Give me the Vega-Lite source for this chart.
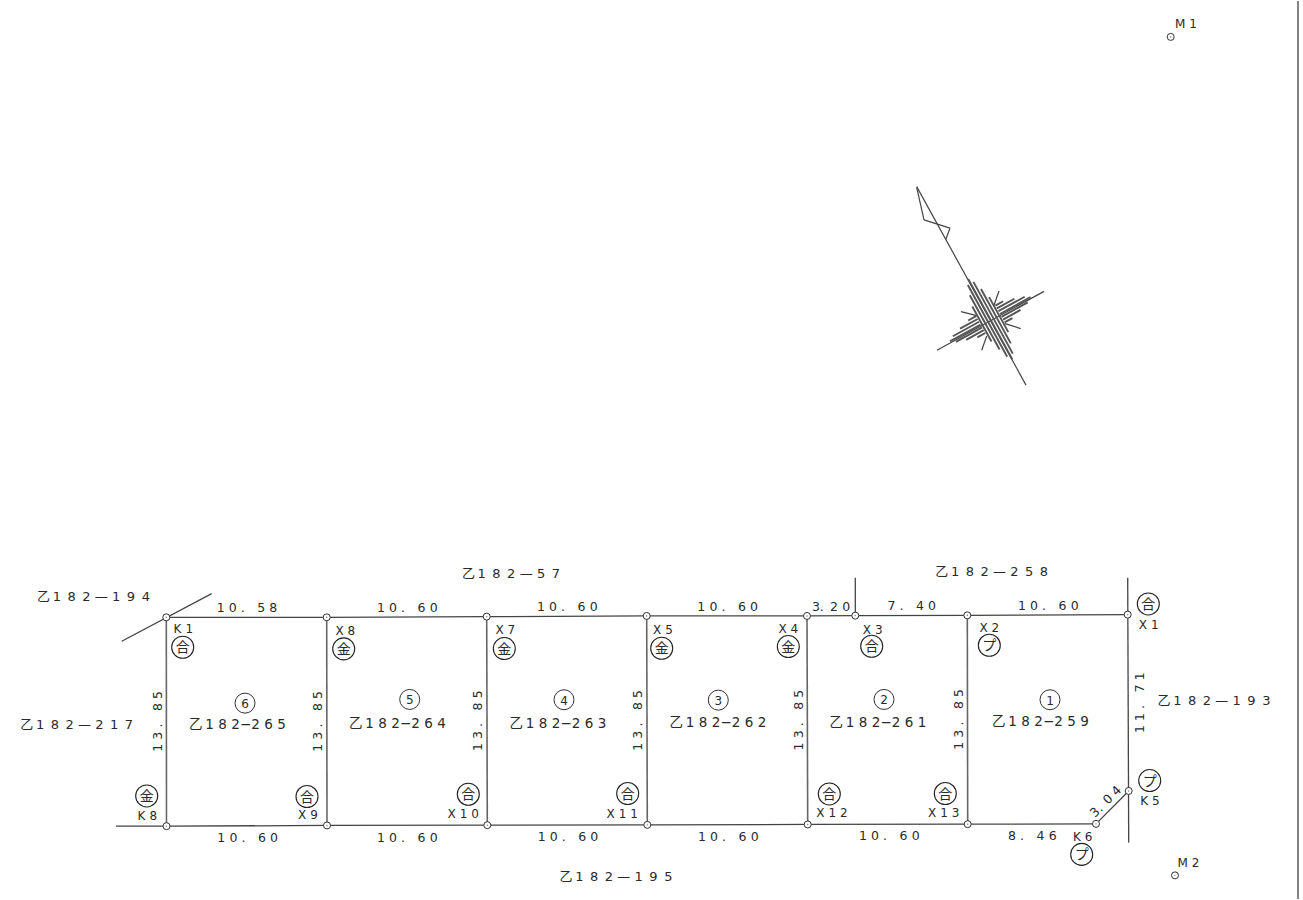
{"$schema":"https://vega.github.io/schema/vega-lite/v6.json","width":1303,"height":900,"padding":0,"autosize":{"type":"fit","contains":"padding"},"background":"white","config":{"view":{"stroke":null},"text":{"font":"DejaVu Sans, Noto Sans CJK JP","fill":"#2a2a2a","align":"center","baseline":"middle","dy":1}},
"datasets":{
"horizontal":[{"x":166.3,"y":617.7,"x2":326.7,"y2":617.7},{"x":326.7,"y":617.7,"x2":486.7,"y2":617},{"x":486.7,"y":617,"x2":646.7,"y2":616.3},{"x":646.7,"y":616.3,"x2":807,"y2":616.3},{"x":807,"y":616.3,"x2":855.3,"y2":616},{"x":855.3,"y":616,"x2":967.3,"y2":615.7},{"x":967.3,"y":615.7,"x2":1127.7,"y2":615},{"x":166.5,"y":827,"x2":327,"y2":826.3},{"x":327,"y":826.3,"x2":487.3,"y2":826},{"x":487.3,"y":826,"x2":647.3,"y2":825.7},{"x":647.3,"y":825.7,"x2":807.7,"y2":825.3},{"x":807.7,"y":825.3,"x2":967.7,"y2":825},{"x":967.7,"y":825,"x2":1096,"y2":824.7},{"x":1096,"y":824.7,"x2":1128.7,"y2":791.7},{"x":121.7,"y":641.7,"x2":211.7,"y2":594},{"x":116,"y":827,"x2":166.5,"y2":827},{"x":855.3,"y":578,"x2":855.3,"y2":616},{"x":1127.7,"y":578,"x2":1128.7,"y2":843.5}],
"vertical":[{"x":166.3,"y":617.7,"x2":166.5,"y2":827},{"x":326.7,"y":617.7,"x2":327,"y2":826.3},{"x":486.7,"y":617,"x2":487.3,"y2":826},{"x":646.7,"y":616.3,"x2":647.3,"y2":825.7},{"x":807,"y":616.3,"x2":807.7,"y2":825.3},{"x":967.3,"y":615.7,"x2":967.7,"y2":825},{"x":1298,"y":0,"x2":1298,"y2":900}],
"rose":[{"x":916.7,"y":186,"x2":1026,"y2":385},{"x":937,"y":350,"x2":1044,"y2":291},{"x":916.7,"y":186.7,"x2":924,"y2":219.3},{"x":924,"y":219.3,"x2":950,"y2":227.7},{"x":950,"y":227.7,"x2":945.7,"y2":239},{"x":999,"y":290.7,"x2":994,"y2":305},{"x":961,"y":311.3,"x2":976.7,"y2":315.3},{"x":1020.7,"y":328.3,"x2":1005,"y2":323.3},{"x":981.7,"y":350,"x2":986.7,"y2":335.7}],
"hatch":[{"x":968.2,"y":278.7,"x2":1012.4,"y2":359.3},
{"x":973.42,"y":281.49,"x2":1012.78,"y2":353.41},{"x":967.82,"y":284.59,"x2":1007.18,"y2":356.51},{"x":981.03,"y":288.72,"x2":1010.79,"y2":343.1},{"x":969.81,"y":294.9,"x2":999.57,"y2":349.28},{"x":989.11,"y":296.82,"x2":1008.31,"y2":331.9},{"x":972.29,"y":306.1,"x2":991.49,"y2":341.18},
{"x":999.94,"y":313.69,"x2":1030.6,"y2":296.8},{"x":980.66,"y":324.31,"x2":950,"y2":341.2},{"x":1001.48,"y":316.5,"x2":1027.76,"y2":302.01},{"x":982.2,"y":327.12,"x2":955.92,"y2":341.61},{"x":998.4,"y":310.88,"x2":1024.68,"y2":296.39},{"x":979.12,"y":321.5,"x2":952.84,"y2":335.99},{"x":1003.01,"y":319.3,"x2":1020.53,"y2":309.64},{"x":983.73,"y":329.92,"x2":966.21,"y2":339.58},{"x":996.87,"y":308.08,"x2":1014.39,"y2":298.42},{"x":977.59,"y":318.7,"x2":960.07,"y2":328.36},{"x":1004.55,"y":322.11,"x2":1012.43,"y2":317.76},{"x":985.27,"y":332.73,"x2":977.39,"y2":337.08},{"x":995.33,"y":305.27,"x2":1003.21,"y2":300.92},{"x":976.05,"y":315.89,"x2":968.17,"y2":320.24}],
"nodes":[{"x":166.3,"y":617.7},{"x":326.7,"y":617.7},{"x":486.7,"y":617},{"x":646.7,"y":616.3},{"x":807,"y":616.3},{"x":855.3,"y":616},{"x":967.3,"y":615.7},{"x":1127.7,"y":615},{"x":166.5,"y":827},{"x":327,"y":826.3},{"x":487.3,"y":826},{"x":647.3,"y":825.7},{"x":807.7,"y":825.3},{"x":967.7,"y":825},{"x":1096,"y":824.7},{"x":1128.7,"y":791.7},{"x":1170.7,"y":36},{"x":1175,"y":876.3}],
"wide":[{"x":93.5,"y":596.7,"t":"乙\u20091\u20028\u20022\u2004—\u20041\u20029\u20024"},{"x":76.7,"y":724.3,"t":"乙\u20091\u20028\u20022\u2004—\u20042\u20021\u20027"},{"x":511,"y":573.3,"t":"乙\u20091\u20028\u20022\u2004—\u20045\u20027"},{"x":616,"y":876.7,"t":"乙\u20091\u20028\u20022\u2004—\u20041\u20029\u20025"},{"x":991.7,"y":571.7,"t":"乙\u20091\u20028\u20022\u2004—\u20042\u20025\u20028"},{"x":1214,"y":701,"t":"乙\u20091\u20028\u20022\u2004—\u20041\u20029\u20023"}],
"parcel":[{"x":237.5,"y":724.3,"t":"乙\u20091\u20048\u20042−2\u20046\u20045"},{"x":397.5,"y":724,"t":"乙\u20091\u20048\u20042−2\u20046\u20044"},{"x":558,"y":723.3,"t":"乙\u20091\u20048\u20042−2\u20046\u20043"},{"x":718,"y":723,"t":"乙\u20091\u20048\u20042−2\u20046\u20042"},{"x":878,"y":723,"t":"乙\u20091\u20048\u20042−2\u20046\u20041"},{"x":1040.5,"y":721.7,"t":"乙\u20091\u20048\u20042−2\u20045\u20049"}],
"lotNumbers":[{"x":245,"y":703.7,"t":"6"},{"x":409.7,"y":700,"t":"5"},{"x":564,"y":700.3,"t":"4"},{"x":718.3,"y":700.7,"t":"3"},{"x":884,"y":700,"t":"2"},{"x":1050,"y":700.3,"t":"1"}],
"stakes":[{"x":182.7,"y":647.7,"t":"合"},{"x":343.7,"y":649.3,"t":"金"},{"x":146.7,"y":796.7,"t":"金"},{"x":307,"y":797.3,"t":"合"},{"x":504.3,"y":649,"t":"金"},{"x":661.7,"y":648.7,"t":"金"},{"x":788.3,"y":647,"t":"金"},{"x":468.3,"y":795,"t":"合"},{"x":627.7,"y":794.3,"t":"合"},{"x":829.3,"y":794.7,"t":"合"},{"x":871.7,"y":646.7,"t":"合"},{"x":989.3,"y":645.7,"t":"プ"},{"x":1148.3,"y":604.3,"t":"合"},{"x":945.3,"y":794.3,"t":"合"},{"x":1149.7,"y":781.3,"t":"プ"},{"x":1081.7,"y":855.3,"t":"プ"}],
"pointLabels":[{"x":183.3,"y":628.3,"t":"K\u20041"},{"x":345.3,"y":630,"t":"X\u20048"},{"x":147.3,"y":816,"t":"K\u20048"},{"x":308,"y":815.3,"t":"X\u20049"},{"x":505.3,"y":629.3,"t":"X\u20047"},{"x":663,"y":629,"t":"X\u20045"},{"x":788.3,"y":628,"t":"X\u20044"},{"x":463.3,"y":814,"t":"X\u20041\u20040"},{"x":622.3,"y":813.7,"t":"X\u20041\u20041"},{"x":832,"y":813.3,"t":"X\u20041\u20042"},{"x":872.7,"y":629,"t":"X\u20043"},{"x":989.3,"y":627.3,"t":"X\u20042"},{"x":1148.7,"y":624.3,"t":"X\u20041"},{"x":943.7,"y":813,"t":"X\u20041\u20043"},{"x":1150,"y":800.7,"t":"K\u20045"},{"x":1082.7,"y":837.3,"t":"K\u20046"},{"x":1186,"y":21.7,"t":"M\u20041"},{"x":1188.5,"y":862.7,"t":"M\u20042"}],
"dimsH":[{"x":247,"y":607.7,"t":"1\u20040\u2004.\u2002\u20025\u20048"},{"x":407.3,"y":607.7,"t":"1\u20040\u2004.\u2002\u20026\u20040"},{"x":567.3,"y":606.7,"t":"1\u20040\u2004.\u2002\u20026\u20040"},{"x":727.7,"y":606.3,"t":"1\u20040\u2004.\u2002\u20026\u20040"},{"x":911.7,"y":605.7,"t":"7\u2004.\u2002\u20024\u20040"},{"x":1048.3,"y":605.3,"t":"1\u20040\u2004.\u2002\u20026\u20040"},{"x":247.7,"y":838.3,"t":"1\u20040\u2004.\u2002\u20026\u20040"},{"x":407.3,"y":837.7,"t":"1\u20040\u2004.\u2002\u20026\u20040"},{"x":568,"y":837,"t":"1\u20040\u2004.\u2002\u20026\u20040"},{"x":728.3,"y":836.7,"t":"1\u20040\u2004.\u2002\u20026\u20040"},{"x":889.3,"y":836.3,"t":"1\u20040\u2004.\u2002\u20026\u20040"},{"x":1032.3,"y":836,"t":"8\u2004.\u2002\u20024\u20046"},{"x":831,"y":606,"t":"3.\u20022\u20040"}],
"dimsV":[{"x":156.7,"y":722,"t":"1\u20043\u2004.\u2002\u20028\u20045"},{"x":316.7,"y":722,"t":"1\u20043\u2004.\u2002\u20028\u20045"},{"x":477,"y":721.3,"t":"1\u20043\u2004.\u2002\u20028\u20045"},{"x":637.3,"y":721,"t":"1\u20043\u2004.\u2002\u20028\u20045"},{"x":797.7,"y":720.7,"t":"1\u20043\u2004.\u2002\u20028\u20045"},{"x":957.7,"y":720,"t":"1\u20043\u2004.\u2002\u20028\u20045"},{"x":1139.3,"y":703.3,"t":"1\u20041\u2004.\u2002\u20027\u20041"}],
"dimsD":[{"x":1105,"y":801.7,"t":"3.\u20020\u20044"}]
},
"encoding":{"x":{"field":"x","type":"quantitative","axis":null,"scale":{"domain":[0,1303],"nice":false,"zero":false}},"y":{"field":"y","type":"quantitative","axis":null,"scale":{"domain":[900,0],"nice":false,"zero":false}}},
"layer":[
{"data":{"name":"vertical"},"mark":{"type":"rule","stroke":"#666666","strokeWidth":1.6},"encoding":{"x2":{"field":"x2"},"y2":{"field":"y2"}}},
{"data":{"name":"horizontal"},"mark":{"type":"rule","stroke":"#444444","strokeWidth":1.3},"encoding":{"x2":{"field":"x2"},"y2":{"field":"y2"}}},
{"data":{"name":"rose"},"mark":{"type":"rule","stroke":"#444444","strokeWidth":1.2},"encoding":{"x2":{"field":"x2"},"y2":{"field":"y2"}}},
{"data":{"name":"hatch"},"mark":{"type":"rule","stroke":"#555555","strokeWidth":1.9},"encoding":{"x2":{"field":"x2"},"y2":{"field":"y2"}}},
{"data":{"name":"nodes"},"mark":{"type":"point","shape":"circle","size":49,"filled":true,"fill":"white","stroke":"#333333","strokeWidth":1,"opacity":1}},
{"data":{"name":"nodes"},"mark":{"type":"point","shape":"circle","size":2,"filled":true,"fill":"#777777","opacity":1}},
{"data":{"name":"lotNumbers"},"mark":{"type":"point","shape":"circle","size":400,"filled":false,"stroke":"#333333","strokeWidth":1,"opacity":1}},
{"data":{"name":"stakes"},"mark":{"type":"point","shape":"circle","size":484,"filled":false,"stroke":"#222222","strokeWidth":1.1,"opacity":1}},
{"data":{"name":"wide"},"mark":{"type":"text","fontSize":13},"encoding":{"text":{"field":"t"}}},
{"data":{"name":"parcel"},"mark":{"type":"text","fontSize":13.5},"encoding":{"text":{"field":"t"}}},
{"data":{"name":"lotNumbers"},"mark":{"type":"text","fontSize":12},"encoding":{"text":{"field":"t"}}},
{"data":{"name":"stakes"},"mark":{"type":"text","fontSize":14},"encoding":{"text":{"field":"t"}}},
{"data":{"name":"pointLabels"},"mark":{"type":"text","fontSize":12},"encoding":{"text":{"field":"t"}}},
{"data":{"name":"dimsH"},"mark":{"type":"text","fontSize":12.5},"encoding":{"text":{"field":"t"}}},
{"data":{"name":"dimsV"},"mark":{"type":"text","fontSize":12.5,"angle":270},"encoding":{"text":{"field":"t"}}},
{"data":{"name":"dimsD"},"mark":{"type":"text","fontSize":12.5,"angle":315},"encoding":{"text":{"field":"t"}}}
]}
